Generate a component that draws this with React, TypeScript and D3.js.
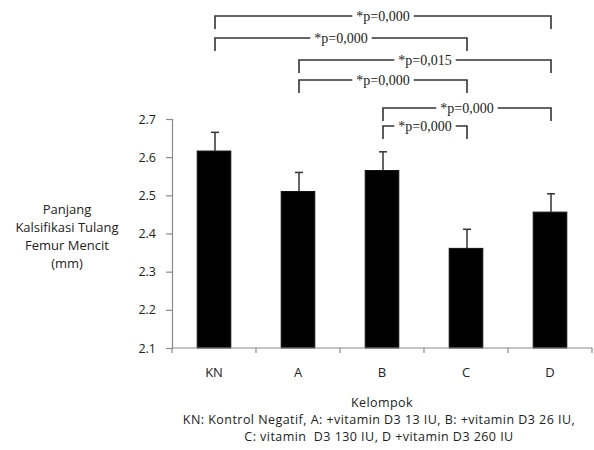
import { useEffect, useRef } from "react";
import * as d3 from "d3";

// groups and measured values
const groups = ["KN", "A", "B", "C", "D"];
const means = [2.616, 2.51, 2.565, 2.361, 2.456];
const errors = [0.049, 0.05, 0.049, 0.05, 0.048];
const yTicks = [2.1, 2.2, 2.3, 2.4, 2.5, 2.6, 2.7];

// pairwise comparisons shown above the bars (top row first)
const compFrom = ["KN", "KN", "A", "A", "B", "B"];
const compTo = ["D", "C", "D", "C", "D", "C"];
const pLabels = ["*p=0,000", "*p=0,000", "*p=0,015", "*p=0,000", "*p=0,000", "*p=0,000"];

const yLabelLines = ["Panjang", "Kalsifikasi Tulang", "Femur Mencit", "(mm)"];
const xTitle = "Kelompok";
const noteLines = [
  "KN: Kontrol Negatif, A: +vitamin D3 13 IU, B: +vitamin D3 26 IU,",
  "C: vitamin  D3 130 IU, D +vitamin D3 260 IU",
];

const W = 594;
const H = 450;
const sans = "'Open Sans', Lato, sans-serif";
const serif = "'Liberation Serif', 'DejaVu Serif', serif";

const App = () => {
  const svgRef = useRef<SVGSVGElement | null>(null);

  useEffect(() => {
    const svg = d3.select(svgRef.current);
    svg.selectAll("*").remove();

    const left = 172;
    const right = 592;
    const top = 119;
    const bottom = 348;

    const x = d3.scaleBand<string>().domain(groups).range([left, right]).padding(0);
    const y = d3.scaleLinear().domain([2.1, 2.7]).range([bottom, top]);
    const barW = x.bandwidth() * 0.4;
    const cx = (g: string) => (x(g) as number) + x.bandwidth() / 2;

    // y axis
    const yAxis = svg
      .append("g")
      .attr("transform", `translate(${left},0)`)
      .call(d3.axisLeft(y).tickValues(yTicks).tickSize(6).tickFormat(d3.format(".1f")));
    yAxis.select(".domain").attr("stroke", "#8a8a8a").attr("stroke-width", 1.2);
    yAxis.selectAll(".tick line").attr("stroke", "#8a8a8a").attr("stroke-width", 1.2);
    yAxis
      .selectAll(".tick text")
      .attr("x", -16)
      .attr("fill", "#222")
      .style("font-family", sans)
      .style("font-size", "12.5px");

    // bars
    svg
      .append("g")
      .selectAll("rect")
      .data(groups)
      .enter()
      .append("rect")
      .attr("x", (d) => cx(d) - barW / 2)
      .attr("y", (d, i) => y(means[i]))
      .attr("width", barW)
      .attr("height", (d, i) => bottom - y(means[i]))
      .attr("fill", "#000")
      .attr("stroke", "#111")
      .attr("stroke-width", 1);

    // error bars (upper only)
    const err = svg.append("g").attr("stroke", "#333").attr("stroke-width", 1.5);
    groups.forEach((g, i) => {
      const c = cx(g) + 1;
      err
        .append("line")
        .attr("x1", c)
        .attr("x2", c)
        .attr("y1", y(means[i]))
        .attr("y2", y(means[i] + errors[i]));
      err
        .append("line")
        .attr("x1", c - 4)
        .attr("x2", c + 4)
        .attr("y1", y(means[i] + errors[i]))
        .attr("y2", y(means[i] + errors[i]));
    });

    // x axis with ticks between categories
    const xg = svg.append("g");
    xg.append("line")
      .attr("x1", left)
      .attr("x2", right)
      .attr("y1", bottom)
      .attr("y2", bottom)
      .attr("stroke", "#8a8a8a")
      .attr("stroke-width", 1.2);
    const edges = groups.map((g) => x(g) as number).concat([right]);
    xg.selectAll(".xt")
      .data(edges)
      .enter()
      .append("line")
      .attr("x1", (d) => d)
      .attr("x2", (d) => d)
      .attr("y1", bottom)
      .attr("y2", bottom + 5)
      .attr("stroke", "#8a8a8a")
      .attr("stroke-width", 1.2);
    xg.selectAll(".xl")
      .data(groups)
      .enter()
      .append("text")
      .attr("x", (d) => cx(d))
      .attr("y", 377)
      .attr("text-anchor", "middle")
      .attr("fill", "#222")
      .style("font-family", sans)
      .style("font-size", "13px")
      .text((d) => d);

    // axis titles and note
    svg
      .append("text")
      .attr("x", 382)
      .attr("y", 407)
      .attr("text-anchor", "middle")
      .attr("fill", "#222")
      .style("font-family", sans)
      .style("font-size", "12.5px")
      .style("letter-spacing", "0.4px")
      .text(xTitle);
    noteLines.forEach((t, i) => {
      svg
        .append("text")
        .attr("x", 379)
        .attr("y", 424 + i * 16.5)
        .attr("text-anchor", "middle")
        .attr("fill", "#222")
        .attr("xml:space", "preserve")
        .style("font-family", sans)
        .style("font-size", "12.5px")
        .style("letter-spacing", "0.45px")
        .style("white-space", "pre")
        .text(t);
    });
    yLabelLines.forEach((t, i) => {
      svg
        .append("text")
        .attr("x", 67)
        .attr("y", 213.5 + i * 18)
        .attr("text-anchor", "middle")
        .attr("fill", "#222")
        .style("font-family", sans)
        .style("font-size", "13px")
        .text(t);
    });

    // significance brackets
    const rowY = [16, 38, 60, 80, 108, 126];
    const drop = 13;
    const br = svg.append("g");
    compFrom.forEach((a, i) => {
      const x1 = cx(a) + 1;
      const x2 = cx(compTo[i]) + 1;
      const ly = rowY[i];
      const mid = (x1 + x2) / 2;
      const label = br
        .append("text")
        .attr("x", mid)
        .attr("y", ly + 4.5)
        .attr("text-anchor", "middle")
        .attr("fill", "#222")
        .style("font-family", serif)
        .style("font-size", "14px")
        .text(pLabels[i]);
      const tw = (label.node() as SVGTextElement).getComputedTextLength();
      const gap = tw / 2 + 4;
      const path = d3.path();
      path.moveTo(x1, ly + drop);
      path.lineTo(x1, ly);
      path.lineTo(mid - gap, ly);
      path.moveTo(mid + gap, ly);
      path.lineTo(x2, ly);
      path.lineTo(x2, ly + drop);
      br.append("path")
        .attr("d", path.toString())
        .attr("fill", "none")
        .attr("stroke", "#333")
        .attr("stroke-width", 1.6);
    });
  }, []);

  return (
    <svg
      ref={svgRef}
      width={W}
      height={H}
      style={{ position: "absolute", left: 0, top: 0, background: "#fff" }}
    ></svg>
  );
};

export default App;
